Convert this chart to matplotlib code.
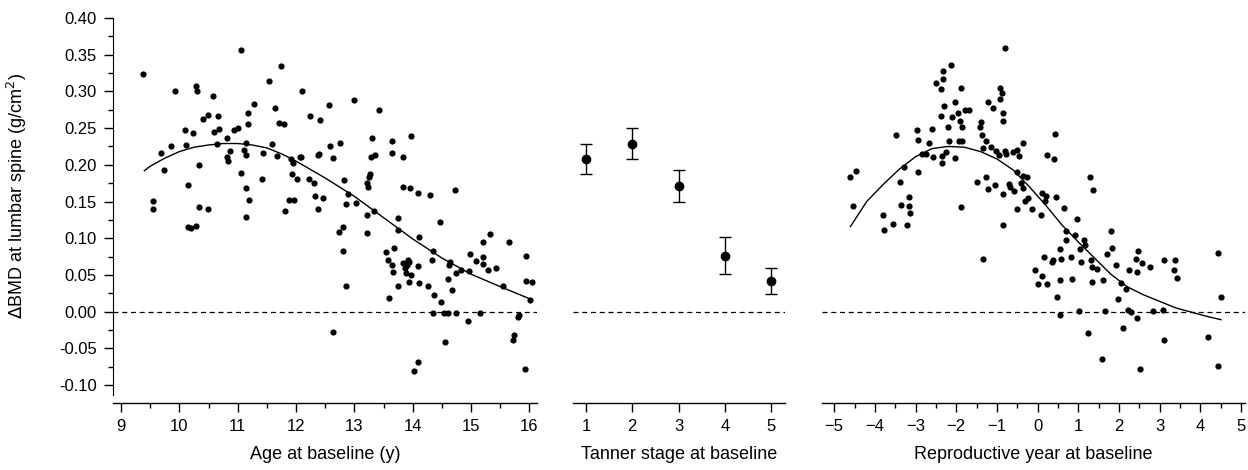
import numpy as np
import matplotlib
matplotlib.use("Agg")
import matplotlib.pyplot as plt
from matplotlib.ticker import MultipleLocator, FormatStrFormatter

plt.rcParams['font.family'] = ['Liberation Sans', 'DejaVu Sans']

# --- panel 1: age at baseline ---
age_x = [9.38, 9.54, 9.54, 9.68, 9.73, 9.85, 9.92, 10.10, 10.12, 10.15, 10.23, 10.14, 10.20, 10.29,
         10.29, 10.31, 10.34, 10.33, 10.41, 10.49, 10.49, 10.57, 10.59, 10.67, 10.68, 10.65, 10.82,
         10.81, 10.84, 10.87, 10.94, 11.00, 11.06, 11.05, 11.11, 11.14, 11.14, 11.17, 11.18, 11.14,
         11.20, 11.14, 11.28, 11.43, 11.42, 11.53, 11.59, 11.64, 11.67, 11.70, 11.79, 11.74, 11.81,
         11.88, 11.97, 11.93, 11.91, 11.95, 12.01, 12.07, 12.09, 12.10, 12.24, 12.23, 12.31, 12.32,
         12.38, 12.38, 12.40, 12.41, 12.47, 12.57, 12.58, 12.63, 12.63, 12.75, 12.73, 12.81, 12.82,
         12.86, 12.81, 12.86, 12.89, 13.00, 13.03, 13.21, 13.23, 13.26, 13.25, 13.21, 13.21, 13.30,
         13.29, 13.35, 13.33, 13.42, 13.55, 13.57, 13.59, 13.65, 13.68, 13.67, 13.65, 13.65, 13.75,
         13.75, 13.74, 13.83, 13.84, 13.84, 13.86, 13.88, 13.92, 13.90, 13.94, 13.94, 13.97, 13.95,
         13.97, 14.03, 14.09, 14.09, 14.09, 14.10, 14.11, 14.26, 14.29, 14.34, 14.33, 14.37, 14.35,
         14.47, 14.48, 14.55, 14.54, 14.60, 14.61, 14.62, 14.64, 14.67, 14.73, 14.75, 14.75, 14.83,
         14.95, 14.97, 14.99, 15.08, 15.15, 15.20, 15.20, 15.20, 15.29, 15.32, 15.43, 15.55, 15.65,
         15.72, 15.74, 15.80, 15.83, 15.93, 15.95, 15.94, 16.05, 16.01]
age_y = [0.324, 0.151, 0.140, 0.216, 0.193, 0.225, 0.300, 0.248, 0.227, 0.173, 0.244, 0.115, 0.114, 0.117,
         0.308, 0.300, 0.200, 0.142, 0.262, 0.268, 0.140, 0.294, 0.245, 0.266, 0.249, 0.229, 0.237,
         0.211, 0.205, 0.219, 0.247, 0.250, 0.356, 0.189, 0.220, 0.214, 0.230, 0.271, 0.255, 0.169,
         0.152, 0.129, 0.283, 0.216, 0.181, 0.314, 0.229, 0.277, 0.212, 0.257, 0.255, 0.334, 0.137,
         0.152, 0.152, 0.187, 0.208, 0.203, 0.180, 0.211, 0.210, 0.300, 0.267, 0.181, 0.175, 0.157,
         0.140, 0.213, 0.215, 0.261, 0.155, 0.282, 0.226, 0.209, -0.028, 0.230, 0.109, 0.115, 0.179,
         0.147, 0.082, 0.035, 0.160, 0.288, 0.148, 0.175, 0.170, 0.187, 0.183, 0.132, 0.107, 0.237,
         0.210, 0.213, 0.137, 0.275, 0.081, 0.070, 0.018, 0.063, 0.086, 0.054, 0.232, 0.216, 0.035,
         0.128, 0.111, 0.210, 0.170, 0.066, 0.059, 0.052, 0.070, 0.064, 0.068, 0.040, 0.050, 0.168,
         0.239, -0.081, -0.068, 0.161, 0.062, 0.101, 0.039, 0.035, 0.159, 0.082, 0.070, 0.023, -0.002,
         0.122, 0.013, -0.042, -0.002, -0.002, 0.045, 0.064, 0.067, 0.030, 0.165, -0.002, 0.053, 0.057,
         -0.013, 0.055, 0.078, 0.069, -0.002, 0.095, 0.075, 0.065, 0.057, 0.106, 0.060, 0.035, 0.095,
         -0.039, -0.032, -0.007, -0.005, -0.078, 0.076, 0.042, 0.040, 0.016]

age_fit_x = [9.40, 9.5, 9.75, 10.0, 10.25, 10.5, 10.75, 11.0, 11.25, 11.5, 11.75, 12.0, 12.5, 13.0,
             13.5, 14.0, 14.5, 15.0, 15.5, 16.05]
age_fit_y = [0.192, 0.198, 0.209, 0.218, 0.224, 0.227, 0.229, 0.229, 0.227, 0.223, 0.215, 0.205,
             0.182, 0.157, 0.128, 0.099, 0.073, 0.051, 0.034, 0.016]

# --- panel 2: Tanner stage ---
stage = [1, 2, 3, 4, 5]
stage_mean = [0.208, 0.229, 0.171, 0.076, 0.042]
stage_lo = [0.187, 0.208, 0.149, 0.051, 0.024]
stage_hi = [0.228, 0.250, 0.193, 0.101, 0.060]

# --- panel 3: reproductive year ---
rep_x = [-0.79, -2.12, -2.32, -2.33, -2.50, -2.37, -1.89, -0.92, -0.88, -0.93, -2.30, -2.03, -1.23,
         -1.09, -1.95, -1.78, -1.68, -0.84, -0.85, -2.37, -2.10, -1.91, -1.86, -1.40, -1.42, -2.19,
         -2.60, -2.96, -3.47, -2.95, -2.68, -2.17, -1.94, -1.87, -1.37, -1.27, -1.33, -1.15, -1.03,
         -0.96, -0.79, -0.78, -0.61, -0.51, -0.46, -0.35, 0.44, -2.85, -2.74, -2.56, -2.36, -2.24,
         -2.36, -2.02, -3.29, -2.93, -3.38, -4.47, -4.60, -4.53, -3.81, -3.56, -3.78, -3.22, -3.36,
         -3.16, -3.16, -3.13, -1.89, -1.48, -1.28, -1.23, -1.05, -0.86, -0.70, -0.69, -0.59, -0.86,
         -0.50, -0.37, -0.27, -0.41, -0.35, -0.32, -0.23, -0.50, -0.13, 0.08, 0.12, 0.21, 0.19,
         0.24, 0.41, 0.45, 0.64, 0.98, 0.69, 0.91, 0.69, 1.14, 1.17, 1.05, 0.55, 0.17, 0.37, 0.36,
         0.58, 0.82, 1.08, 1.30, 1.36, 1.32, 1.34, 1.46, 1.60, 1.70, 1.83, 1.81, 1.92, 2.24, 2.42,
         2.48, 2.56, 2.44, 2.77, 3.12, 3.38, 3.35, 3.42, 4.43, -0.07, 0.00, 0.11, 0.23, 0.54, 0.85,
         1.35, -1.35, 2.05, 2.18, 4.51, 0.49, 1.97, 1.03, 1.65, 2.23, 2.30, 2.44, 2.84, 3.08, 0.54,
         2.10, 1.24, 3.10, 4.20, 1.59, 2.52, 4.43]
rep_y = [0.359, 0.336, 0.328, 0.317, 0.311, 0.303, 0.305, 0.304, 0.298, 0.290, 0.280, 0.285, 0.286,
         0.278, 0.270, 0.274, 0.275, 0.270, 0.260, 0.266, 0.265, 0.259, 0.252, 0.258, 0.251, 0.252,
         0.249, 0.247, 0.240, 0.234, 0.230, 0.232, 0.233, 0.233, 0.240, 0.233, 0.223, 0.224, 0.219,
         0.213, 0.219, 0.215, 0.218, 0.220, 0.212, 0.230, 0.242, 0.215, 0.215, 0.211, 0.212, 0.217,
         0.203, 0.209, 0.197, 0.190, 0.176, 0.191, 0.184, 0.144, 0.132, 0.120, 0.111, 0.118, 0.145,
         0.156, 0.144, 0.135, 0.143, 0.177, 0.184, 0.167, 0.173, 0.160, 0.174, 0.170, 0.164, 0.118,
         0.190, 0.185, 0.183, 0.175, 0.168, 0.151, 0.155, 0.140, 0.140, 0.132, 0.161, 0.158, 0.151,
         0.213, 0.208, 0.156, 0.141, 0.126, 0.110, 0.105, 0.098, 0.098, 0.091, 0.085, 0.085, 0.074,
         0.070, 0.067, 0.072, 0.074, 0.067, 0.184, 0.165, 0.070, 0.061, 0.058, 0.043, 0.078, 0.086,
         0.110, 0.064, 0.057, 0.071, 0.082, 0.066, 0.054, 0.061, 0.070, 0.070, 0.057, 0.046, 0.080,
         0.057, 0.037, 0.048, 0.037, 0.043, 0.044, 0.040, 0.072, 0.039, 0.031, 0.020, 0.020, 0.017,
         0.001, 0.001, 0.002, -0.001, -0.009, 0.001, 0.002, -0.005, -0.023, -0.029, -0.038, -0.034,
         -0.065, -0.078, -0.074]

rep_fit_x = [-4.60, -4.2, -3.8, -3.4, -3.0, -2.6, -2.2, -1.8, -1.4, -1.0, -0.6, -0.2, 0.2, 0.6, 1.0,
             1.4, 1.8, 2.2, 2.6, 3.0, 3.4, 3.8, 4.2, 4.51]
rep_fit_y = [0.116, 0.150, 0.173, 0.194, 0.211, 0.222, 0.225, 0.224, 0.218, 0.208, 0.193, 0.170,
             0.145, 0.118, 0.095, 0.073, 0.051, 0.034, 0.023, 0.014, 0.005, -0.001, -0.007, -0.011]

YLIM = (-0.1245, 0.40)
W, H = 1248, 470

fig = plt.figure(figsize=(W / 100, H / 100), dpi=100)


def rect(x0, x1, y0=18, y1=403):
    return [x0 / W, (H - y1) / H, (x1 - x0) / W, (y1 - y0) / H]


ax1 = fig.add_axes(rect(113, 537))
ax2 = fig.add_axes(rect(573, 785))
ax3 = fig.add_axes(rect(822, 1245))

for ax in (ax1, ax2, ax3):
    ax.set_ylim(*YLIM)
    for s in ('top', 'right'):
        ax.spines[s].set_visible(False)
    ax.spines['bottom'].set_linewidth(1.0)
    ax.axhline(0, color='black', lw=0.9, ls=(0, (4, 3)), zorder=1)
    ax.tick_params(axis='both', which='major', direction='out', length=6.5, width=1,
                   labelsize=12, pad=5)
    ax.tick_params(axis='both', which='minor', direction='out', length=3.5, width=1)
    ax.xaxis.set_major_locator(MultipleLocator(1))

for ax in (ax2, ax3):
    ax.spines['left'].set_visible(False)
    ax.set_yticks([])

# left panel
ax1.scatter(age_x, age_y, s=20, color='black', linewidths=0, zorder=3)
ax1.plot(age_fit_x, age_fit_y, color='black', lw=1.0, zorder=2)
ax1.set_xlim(8.863, 16.13)
ax1.xaxis.set_minor_locator(MultipleLocator(0.5))
ax1.yaxis.set_major_locator(MultipleLocator(0.05))
ax1.yaxis.set_minor_locator(MultipleLocator(0.025))
ax1.yaxis.set_major_formatter(FormatStrFormatter('%.2f'))
ax1.spines['left'].set_bounds(-0.113, 0.40)
ax1.set_xlabel('Age at baseline (y)', fontsize=13)
ax1.set_ylabel(r'$\Delta$BMD at lumbar spine (g/cm$^2$)', fontsize=13)
ax1.yaxis.set_label_coords(-0.198, 0.538)

# middle panel
err = [np.subtract(stage_mean, stage_lo), np.subtract(stage_hi, stage_mean)]
ax2.errorbar(stage, stage_mean, yerr=err, fmt='o', color='black', ms=6, elinewidth=1.0,
             capsize=4.5, capthick=1.0, zorder=3)
ax2.set_xlim(0.719, 5.30)
ax2.set_xlabel('Tanner stage at baseline', fontsize=13)

# right panel
ax3.scatter(rep_x, rep_y, s=20, color='black', linewidths=0, zorder=3)
ax3.plot(rep_fit_x, rep_fit_y, color='black', lw=1.0, zorder=2)
ax3.set_xlim(-5.30, 5.10)
ax3.xaxis.set_minor_locator(MultipleLocator(0.5))
ax3.set_xlabel('Reproductive year at baseline', fontsize=13)

for ax in (ax1, ax2, ax3):
    ax.xaxis.set_label_coords(0.5, -0.112)

fig.savefig('out.png', dpi=100)
